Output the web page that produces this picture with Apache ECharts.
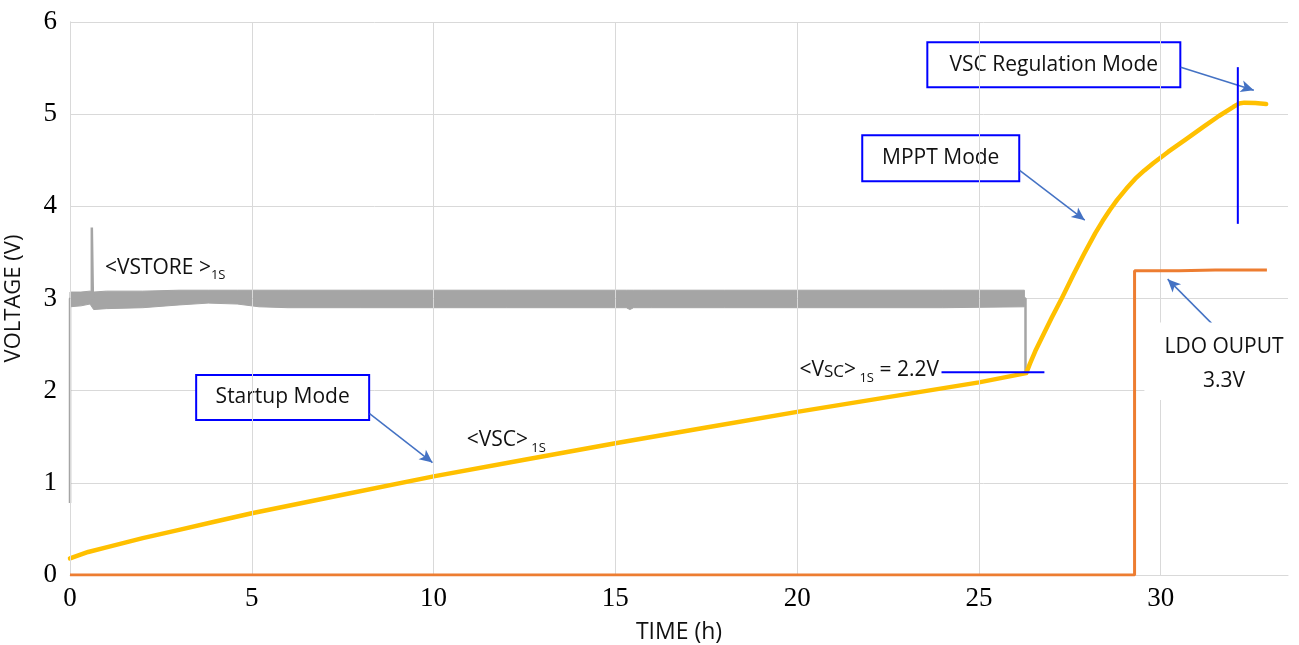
<!DOCTYPE html>
<html>
<head>
<meta charset="utf-8">
<script src="https://cdn.jsdelivr.net/npm/echarts@6/dist/echarts.min.js"></script>
<style>
  html, body { margin: 0; padding: 0; background: #ffffff; }
  #chart { width: 1299px; height: 645px; }
</style>
</head>
<body>
<div id="chart"></div>
<script>
// ---- Axis settings ----
const xMin = 0, xMax = 33.5, xStep = 5;
const yMin = 0, yMax = 6, yStep = 1;
const xGridValues = [0, 5, 10, 15, 20, 25, 30];

// ---- <VSC>1S : supercapacitor voltage (startup ramp, then MPPT charge, then regulation) ----
const vscTime = [0, 0.5, 1, 2, 3, 4, 5, 7.5, 10, 12.5, 15, 17.5, 20, 22.5, 25, 26.3,
                 26.4, 26.55, 26.8, 27.0, 27.3, 27.6, 27.9, 28.2, 28.4, 28.6, 28.8, 29.05, 29.3, 29.55, 29.8,
                 30.2, 30.7, 31.2, 31.6, 32.0, 32.15, 32.3, 32.6, 32.9];
const vscVolt = [0.18, 0.25, 0.30, 0.40, 0.49, 0.58, 0.67, 0.87, 1.07, 1.25, 1.43, 1.60, 1.77, 1.93, 2.09, 2.19,
                 2.29, 2.43, 2.63, 2.79, 3.02, 3.26, 3.49, 3.71, 3.84, 3.96, 4.07, 4.19, 4.30, 4.39, 4.47,
                 4.59, 4.73, 4.87, 4.98, 5.08, 5.115, 5.125, 5.12, 5.11];

// ---- LDO output ----
const ldoTime = [0, 29.28, 29.28, 30.5, 31.5, 32.92];
const ldoVolt = [0, 0, 3.30, 3.30, 3.31, 3.31];

// ---- <VSTORE>1S : start-up edge, spike and final drop ----
const storeTime = [0, 0, 0.6, 0.6, 0.63, 26.28, 26.28];
const storeVolt = [0.78, 3.0, 3.0, 3.77, 3.0, 3.0, 2.2];

// ---- <VSTORE>1S ripple band (upper / lower envelope) ----
const bandTime  = [0, 0.3, 0.55, 0.65, 1, 2, 3, 3.8, 4.6, 5.2, 6, 8, 10, 12, 14, 15.3, 15.4, 15.5, 16, 18, 20, 22, 24, 26.25];
const bandUpper = [3.07, 3.07, 3.08, 3.07, 3.08, 3.08, 3.09, 3.09, 3.09, 3.09, 3.09, 3.09, 3.09, 3.09, 3.09, 3.09, 3.09, 3.09, 3.09, 3.09, 3.09, 3.09, 3.09, 3.09];
const bandLower = [2.91, 2.92, 2.94, 2.88, 2.89, 2.90, 2.93, 2.95, 2.94, 2.91, 2.90, 2.90, 2.90, 2.90, 2.90, 2.90, 2.88, 2.90, 2.90, 2.90, 2.90, 2.90, 2.90, 2.91];

// ---- Mode markers ----
const regMarkTime = [32.12, 32.12];
const regMarkVolt = [3.81, 5.51];
const thrMarkTime = [23.97, 26.8];
const thrMarkVolt = [2.2, 2.2];

// ---- Callout arrows: [fromX, fromY, toX, toY] ----
const arrowStartup = [8.24, 1.75, 9.97, 1.22];
const arrowMppt    = [26.12, 4.39, 27.91, 3.85];
const arrowReg     = [30.55, 5.51, 32.56, 5.26];
const arrowLdo     = [31.40, 2.73, 30.19, 3.21];

const SANS = '"Open Sans", "Liberation Sans", sans-serif';
const SERIF = '"Liberation Serif", "DejaVu Serif", serif';

const zip = (xs, ys) => xs.map((x, i) => [x, ys[i]]);
const arrowData = a => [{ coord: [a[0], a[1]] }, { coord: [a[2], a[3]] }];

const chart = echarts.init(document.getElementById('chart'), null, { renderer: 'canvas' });

chart.setOption({
  animation: false,
  backgroundColor: '#ffffff',
  grid: { show: false, borderWidth: 0, left: 70, right: 11, top: 22, bottom: 70,
          containLabel: false, outerBoundsMode: 'none' },
  xAxis: {
    type: 'value', min: xMin, max: xMax, interval: xStep,
    name: 'TIME (h)', nameLocation: 'middle', nameGap: 46,
    nameTextStyle: { fontFamily: SANS, fontSize: 23, color: '#111' },
    axisLine: { show: true, lineStyle: { color: '#d9d9d9', width: 1 } },
    axisTick: { show: false },
    axisLabel: { fontFamily: SERIF, fontSize: 27, color: '#000', margin: 10, showMaxLabel: false },
    splitLine: { show: false }
  },
  yAxis: {
    type: 'value', min: yMin, max: yMax, interval: yStep,
    name: 'VOLTAGE (V)', nameLocation: 'middle', nameGap: 45, nameRotate: 90,
    nameTextStyle: { fontFamily: SANS, fontSize: 22, color: '#111' },
    axisLine: { show: true, lineStyle: { color: '#c8c8c8', width: 1 } },
    axisTick: { show: false },
    axisLabel: { fontFamily: SERIF, fontSize: 27, color: '#000', margin: 13 },
    splitLine: { show: true, lineStyle: { color: '#d9d9d9', width: 1 } }
  },
  series: [
    {
      // vertical grid lines at the labelled time ticks only
      name: 'timeGrid', type: 'line', z: 1, data: [], silent: true,
      markLine: {
        silent: true, symbol: ['none', 'none'], label: { show: false },
        lineStyle: { color: '#d9d9d9', width: 1, type: 'solid' },
        data: xGridValues.map(v => ({ xAxis: v }))
      }
    },
    {
      // ripple band of VSTORE drawn as a filled envelope
      type: 'custom', z: 2, silent: true,
      data: [0],
      renderItem: function (params, api) {
        const pts = [];
        for (let i = 0; i < bandTime.length; i++) pts.push(api.coord([bandTime[i], bandUpper[i]]));
        for (let i = bandTime.length - 1; i >= 0; i--) pts.push(api.coord([bandTime[i], bandLower[i]]));
        return { type: 'polygon', shape: { points: pts }, style: { fill: '#a5a5a5', stroke: '#a5a5a5', lineWidth: 1 } };
      }
    },
    {
      name: 'VSTORE', type: 'line', z: 3, showSymbol: false, symbol: 'none',
      data: zip(storeTime, storeVolt),
      lineStyle: { color: '#a5a5a5', width: 2.5 }
    },
    {
      name: 'VSC', type: 'line', z: 4, showSymbol: false, symbol: 'none',
      data: zip(vscTime, vscVolt),
      lineStyle: { color: '#ffc000', width: 4.5, join: 'round', cap: 'round' },
      markLine: {
        silent: true, symbol: ['none', 'arrow'], symbolSize: [9, 13],
        lineStyle: { color: '#4472c4', width: 1.5, type: 'solid' },
        label: { show: false },
        data: [arrowData(arrowStartup), arrowData(arrowMppt), arrowData(arrowReg), arrowData(arrowLdo)]
      }
    },
    {
      name: 'LDO', type: 'line', z: 5, showSymbol: false, symbol: 'none',
      data: zip(ldoTime, ldoVolt),
      lineStyle: { color: '#ed7d31', width: 3 }
    },
    {
      name: 'regMark', type: 'line', z: 6, showSymbol: false, symbol: 'none',
      data: zip(regMarkTime, regMarkVolt),
      lineStyle: { color: '#0000ff', width: 2 }
    },
    {
      name: 'thrMark', type: 'line', z: 6, showSymbol: false, symbol: 'none',
      data: zip(thrMarkTime, thrMarkVolt),
      lineStyle: { color: '#0000ff', width: 2 }
    }
  ]
});

// ---- Text callouts, anchored in data space ----
const px = (x, y) => chart.convertToPixel({ gridIndex: 0 }, [x, y]);

function modeBox(x, y, w, h, text) {
  const p = px(x, y);
  return {
    type: 'group', x: p[0], y: p[1], z: 100,
    children: [
      { type: 'rect', shape: { x: 0, y: 0, width: w, height: h },
        style: { fill: '#ffffff', stroke: '#0000ff', lineWidth: 2 } },
      { type: 'text', x: w / 2, y: h / 2,
        style: { text: text, fontFamily: SANS, fontSize: 21, fill: '#111',
                 align: 'center', verticalAlign: 'middle' } }
    ]
  };
}

function subLabel(x, y, rich, text, align) {
  const p = px(x, y);
  return {
    type: 'text', x: p[0], y: p[1], z: 100,
    style: { text: text, rich: rich, align: align || 'left', verticalAlign: 'middle' }
  };
}

const richBase = {
  m:  { fontFamily: SANS, fontSize: 21, fill: '#111', lineHeight: 28, verticalAlign: 'middle' },
  sc: { fontFamily: SANS, fontSize: 17, fill: '#111', lineHeight: 28, verticalAlign: 'middle', padding: [3, 0, 0, 0] },
  s:  { fontFamily: SANS, fontSize: 13, fill: '#111', lineHeight: 14, verticalAlign: 'bottom' }
};

const ldoP = px(31.74, 2.29);
const ldoBg = px(29.55, 2.74);
const ldoBg2 = px(33.5, 1.9);

chart.setOption({
  graphic: [
    modeBox(3.47, 2.17, 173, 45, 'Startup Mode'),
    modeBox(21.79, 4.77, 157, 46, 'MPPT Mode'),
    modeBox(23.58, 5.78, 253, 45, 'VSC Regulation Mode'),
    subLabel(0.96, 3.33, richBase, '{m|<VSTORE >}{s|1S}'),
    subLabel(10.91, 1.46, richBase, '{m|<VSC>}{s| 1S}'),
    subLabel(23.9, 2.22, richBase, '{m|<V}{sc|SC}{m|>}{s| 1S}{m| = 2.2V}', 'right'),
    { type: 'rect', z: 90, shape: { x: ldoBg[0], y: ldoBg[1], width: ldoBg2[0] - ldoBg[0] + 11, height: ldoBg2[1] - ldoBg[1] },
      style: { fill: '#ffffff' } },
    { type: 'text', x: ldoP[0], y: ldoP[1], z: 100,
      style: { text: 'LDO OUPUT\n3.3V', fontFamily: SANS, fontSize: 21, fill: '#111',
               align: 'center', verticalAlign: 'middle', lineHeight: 34 } }
  ]
});
</script>
</body>
</html>
